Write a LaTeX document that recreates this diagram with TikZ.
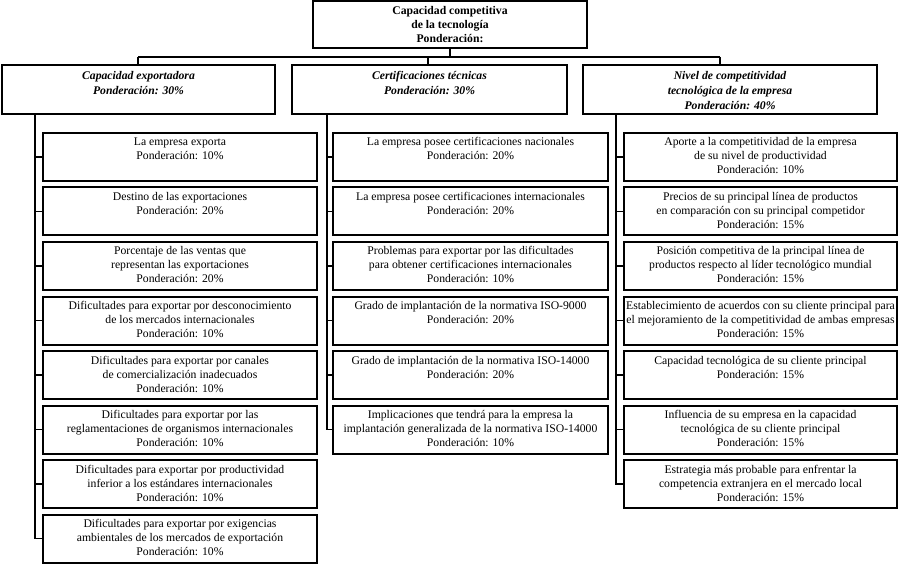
\documentclass[tikz,border=0pt]{standalone}
\usepackage{fontspec}
\setmainfont{Liberation Serif}
\tikzset{
  boxst/.style={draw=black, line width=2pt, inner sep=0pt, outer sep=0pt, anchor=north west},
  leafst/.style={boxst, font=\fontsize{11.7}{14}\selectfont},
  catst/.style={boxst, font=\fontsize{11.7}{15}\selectfont\bfseries\itshape},
  topst/.style={boxst, font=\fontsize{11.7}{14}\selectfont\bfseries},
  conn/.style={draw=black, line width=1.8pt}
}
% name, x, y, width, height, first baseline, style, text
\newcommand\mkbox[8]{\node[#7] (#1) at (#2,#3) {\parbox[c][#5pt][t]{#4pt}{\centering\rule{0pt}{#6pt}#8}};}
\begin{document}
\begin{tikzpicture}[x=1pt,y=-1pt]
\useasboundingbox (0,0) rectangle (900,564);
% top
\mkbox{top}{313}{1}{274}{47}{13.5}{topst}{Capacidad competitiva\\de la tecnología\\Ponderación:}
% categories
\mkbox{cat1}{2}{65}{273}{49}{14.5}{catst}{Capacidad exportadora\\Ponderación: 30\%}
\mkbox{cat2}{292}{65}{275}{49}{14.5}{catst}{Certificaciones técnicas\\Ponderación: 30\%}
\mkbox{cat3}{583}{65}{294}{49}{14.5}{catst}{Nivel de competitividad\\tecnológica de la empresa\\Ponderación: 40\%}
% left column
\mkbox{L1}{43}{133}{274}{48}{13}{leafst}{La empresa exporta\\Ponderación: 10\%}
\mkbox{L2}{43}{187.5}{274}{48}{13}{leafst}{Destino de las exportaciones\\Ponderación: 20\%}
\mkbox{L3}{43}{242}{274}{48}{13}{leafst}{Porcentaje de las ventas que\\representan las exportaciones\\Ponderación: 20\%}
\mkbox{L4}{43}{296.5}{274}{48}{13}{leafst}{Dificultades para exportar por desconocimiento\\de los mercados internacionales\\Ponderación: 10\%}
\mkbox{L5}{43}{351}{274}{48}{13}{leafst}{Dificultades para exportar por canales\\de comercialización inadecuados\\Ponderación: 10\%}
\mkbox{L6}{43}{405.5}{274}{48}{13}{leafst}{Dificultades para exportar por las\\reglamentaciones de organismos internacionales\\Ponderación: 10\%}
\mkbox{L7}{43}{460}{274}{48}{13}{leafst}{Dificultades para exportar por productividad\\inferior a los estándares internacionales\\Ponderación: 10\%}
\mkbox{L8}{43}{514.5}{274}{48}{13}{leafst}{Dificultades para exportar por exigencias\\ambientales de los mercados de exportación\\Ponderación: 10\%}
% center column
\mkbox{C1}{333}{133}{275}{48}{13}{leafst}{La empresa posee certificaciones nacionales\\Ponderación: 20\%}
\mkbox{C2}{333}{187.5}{275}{48}{13}{leafst}{La empresa posee certificaciones internacionales\\Ponderación: 20\%}
\mkbox{C3}{333}{242}{275}{48}{13}{leafst}{Problemas para exportar por las dificultades\\para obtener certificaciones internacionales\\Ponderación: 10\%}
\mkbox{C4}{333}{296.5}{275}{48}{13}{leafst}{Grado de implantación de la normativa ISO-9000\\Ponderación: 20\%}
\mkbox{C5}{333}{351}{275}{48}{13}{leafst}{Grado de implantación de la normativa ISO-14000\\Ponderación: 20\%}
\mkbox{C6}{333}{405.5}{275}{48}{13}{leafst}{Implicaciones que tendrá para la empresa la\\implantación generalizada de la normativa ISO-14000\\Ponderación: 10\%}
% right column
\mkbox{R1}{624}{133}{273}{48}{13}{leafst}{Aporte a la competitividad de la empresa\\de su nivel de productividad\\Ponderación: 10\%}
\mkbox{R2}{624}{187.5}{273}{48}{13}{leafst}{Precios de su principal línea de productos\\en comparación con su principal competidor\\Ponderación: 15\%}
\mkbox{R3}{624}{242}{273}{48}{13}{leafst}{Posición competitiva de la principal línea de\\productos respecto al líder tecnológico mundial\\Ponderación: 15\%}
\mkbox{R4}{624}{296.5}{273}{48}{13}{leafst}{Establecimiento de acuerdos con su cliente principal para\\el mejoramiento de la competitividad de ambas empresas\\Ponderación: 15\%}
\mkbox{R5}{624}{351}{273}{48}{13}{leafst}{Capacidad tecnológica de su cliente principal\\Ponderación: 15\%}
\mkbox{R6}{624}{405.5}{273}{48}{13}{leafst}{Influencia de su empresa en la capacidad\\tecnológica de su cliente principal\\Ponderación: 15\%}
\mkbox{R7}{624}{460}{273}{48}{13}{leafst}{Estrategia más probable para enfrentar la\\competencia extranjera en el mercado local\\Ponderación: 15\%}
% top connectors
\coordinate (hL) at (138,57);
\coordinate (hC) at (428,57);
\coordinate (hR) at (720,57);
\draw[conn] (top.south) -- (top.south |- hL);
\draw[conn] (hL) -- (hR);
\draw[conn] (hL) -- (hL |- cat1.north);
\draw[conn] (hC) -- (hC |- cat2.north);
\draw[conn] (hR) -- (hR |- cat3.north);
% left spine
\draw[conn] ([xshift=-8pt]L1.west |- cat1.south) |- (L8.west);
\foreach \n in {1,...,7}{\draw[conn] (L\n.west) -- ++(-8,0);}
% center spine
\draw[conn] ([xshift=-6pt]C1.west |- cat2.south) |- (C6.west);
\foreach \n in {1,...,5}{\draw[conn] (C\n.west) -- ++(-6,0);}
% right spine
\draw[conn] ([xshift=-8pt]R1.west |- cat3.south) |- (R7.west);
\foreach \n in {1,...,6}{\draw[conn] (R\n.west) -- ++(-8,0);}
\end{tikzpicture}
\end{document}
